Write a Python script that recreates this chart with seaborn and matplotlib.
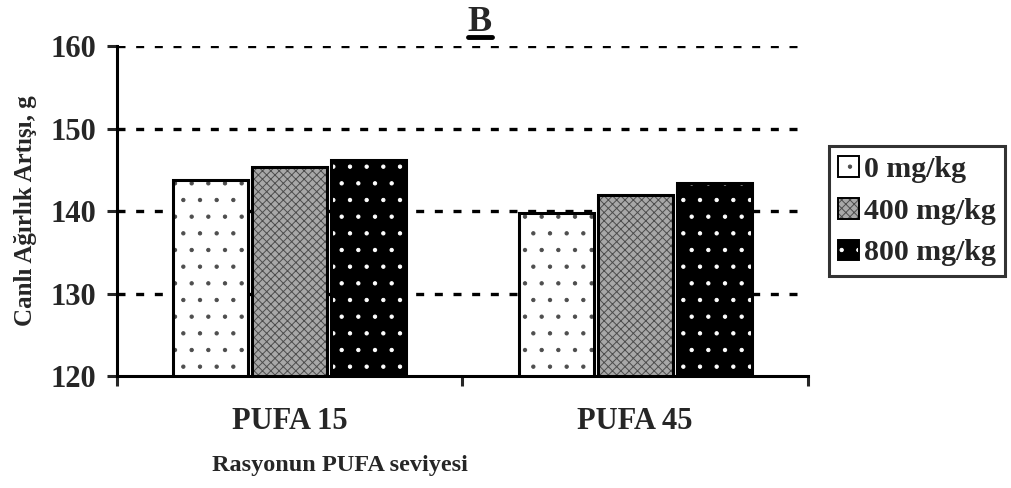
import matplotlib
matplotlib.use("Agg")
import matplotlib.pyplot as plt
from matplotlib.patches import Patch
from matplotlib.lines import Line2D
import seaborn as sns
import pandas as pd

# Live weight gain by dietary PUFA level and supplement dose
groups = ["PUFA 15", "PUFA 45"]
doses = ["0 mg/kg", "400 mg/kg", "800 mg/kg"]
gain_0 = [143.8, 139.8]
gain_400 = [145.3, 142.0]
gain_800 = [146.2, 143.4]
y_ticks = [120, 130, 140, 150, 160]

df = pd.DataFrame({
    "group": groups * 3,
    "dose": [d for d in doses for _ in groups],
    "gain": gain_0 + gain_400 + gain_800,
})

sns.set_style("white")
plt.rcParams["font.family"] = ["Liberation Serif", "DejaVu Serif"]
plt.rcParams["font.weight"] = "bold"
plt.rcParams["hatch.linewidth"] = 0.7

# face colour, hatch, hatch colour for each dose
styles = [
    ("white", ".", (0.3, 0.3, 0.3, 1)),
    ("#a8a8a8", "xxxx", (0.3, 0.3, 0.3, 1)),
    ("black", ".", (1, 1, 1, 1)),
]

fig = plt.figure(figsize=(10.11, 4.88), dpi=100)
ax = fig.add_axes([0.1157, 0.2295, 0.6835, 0.6762])

sns.barplot(data=df, x="group", y="gain", hue="dose", order=groups,
            hue_order=doses, palette=[s[0] for s in styles],
            width=0.686, gap=0.05, edgecolor="black", linewidth=2.2,
            legend=False, ax=ax, zorder=3)

for cont, (fc, hatch, hc) in zip(ax.containers, styles):
    for bar in cont:
        bar.set_hatch(hatch)
        bar._hatch_color = hc

ax.set_ylim(120, 160)
ax.set_yticks(y_ticks)
ax.set_xlim(-0.5, 1.5)

# dashed grid lines at every major y tick
for t in y_ticks[1:]:
    ax.axhline(t, color="black", linestyle=(0, (2.4, 3.2)), linewidth=2.4, zorder=1)

for s in ["top", "right"]:
    ax.spines[s].set_visible(False)
for s in ["left", "bottom"]:
    ax.spines[s].set_linewidth(2.2)
    ax.spines[s].set_color("black")
    ax.spines[s].set_zorder(4)

ax.tick_params(axis="y", which="major", direction="out", length=7, width=2.2,
               labelsize=22, pad=8, left=True)
ax.tick_params(axis="x", which="major", length=0, labelsize=22, pad=22)
ax.set_xticks([-0.5, 0.5, 1.5], minor=True)
ax.tick_params(axis="x", which="minor", direction="out", length=7, width=2.2,
               bottom=True)
for lab in ax.get_xticklabels() + ax.get_yticklabels():
    lab.set_fontweight("bold")

ax.set_xlabel("Rasyonun PUFA seviyesi", fontsize=17.5, fontweight="bold")
ax.xaxis.set_label_coords(0.323, -0.24)
ax.set_ylabel("Canlı Ağırlık Artışı, g", fontsize=18, fontweight="bold",
              labelpad=10)

handles = [Patch(facecolor=fc, edgecolor="black", hatch=h, linewidth=1.4)
           for fc, h, hc in styles]
leg = ax.legend(handles, doses, loc="center left", bbox_to_anchor=(1.03, 0.5),
                frameon=True, fancybox=False, edgecolor="black",
                prop={"size": 21.5, "weight": "bold"}, handlelength=0.7,
                handleheight=0.7, handletextpad=0.15, labelspacing=0.5,
                borderpad=0.32, borderaxespad=0)
leg.get_frame().set_linewidth(2.2)
for h, (fc, hatch, hc) in zip(leg.legend_handles, styles):
    h._hatch_color = hc

title = ax.set_title("B", fontsize=26, fontweight="bold", pad=11, x=0.525)

# underline the title
fig.canvas.draw()
bb = title.get_window_extent()
W, H = fig.bbox.width, fig.bbox.height
y_ul = (bb.y0 + 2) / H
fig.add_artist(Line2D([bb.x0 / W, bb.x1 / W], [y_ul, y_ul], color="black",
                      linewidth=3.5, transform=fig.transFigure))

fig.savefig("out.png", dpi=100)
